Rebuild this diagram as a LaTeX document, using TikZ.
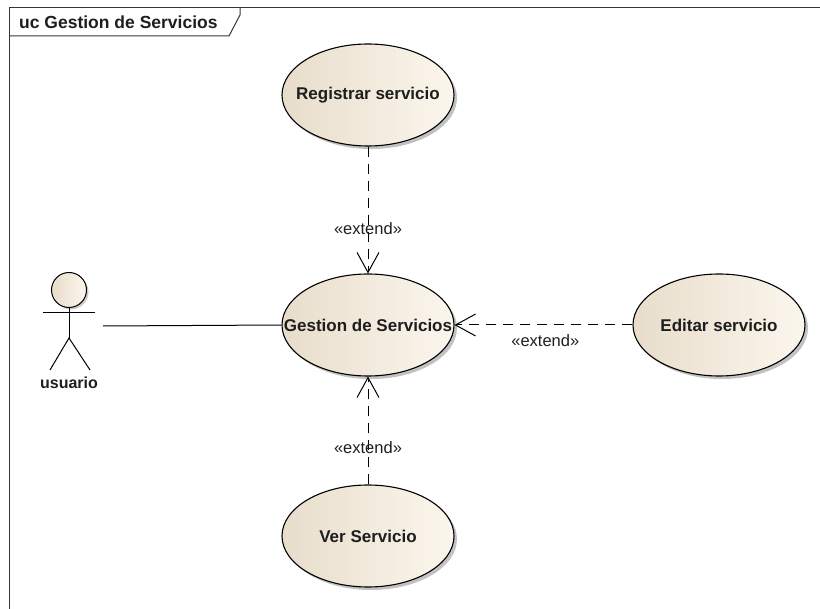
\documentclass[tikz,border=0pt]{standalone}
\usepackage{fontspec}
\setmainfont{Liberation Sans}
\usetikzlibrary{shapes.geometric,arrows.meta,shadows}

\definecolor{ucleft}{RGB}{232,221,203}
\definecolor{ucright}{RGB}{251,246,237}
\definecolor{frameline}{RGB}{55,55,55}
\definecolor{inkcol}{RGB}{30,30,30}

% use-case text is boxed at zero width so the ellipse keeps its fixed size
\newcommand{\uctext}[1]{\makebox[0pt]{#1}}

\tikzset{
  usecase/.style={ellipse, draw=black, line width=1.1pt,
    minimum width=172pt, minimum height=102pt, inner sep=0pt,
    left color=ucleft, right color=ucright,
    drop shadow={shadow xshift=3pt, shadow yshift=-3pt, fill=black!40, opacity=0.6},
    text=inkcol, font=\fontsize{17}{20}\selectfont\bfseries},
  extendline/.style={line width=1pt, dash pattern=on 10pt off 7pt,
    -{Straight Barb[length=20pt, width=22pt, line width=1pt]}},
  stereo/.style={font=\fontsize{16.5}{20}\selectfont, inner sep=0pt, text=inkcol},
  stick/.style={line width=1pt, draw=black},
}

\begin{document}
\begin{tikzpicture}[x=1pt, y=-1pt]
  \useasboundingbox (0,0) rectangle (820,609);

  % diagram frame and its name tab
  \draw[frameline, line width=1pt] (820,8) -- (9,8) -- (9,609);
  \draw[frameline, line width=1pt] (9,36) -- (229,36) -- (240,15) -- (240,8);
  \node[anchor=west, inner sep=0pt, text=inkcol, font=\fontsize{17.5}{20}\selectfont\bfseries]
    (title) at (19,22) {uc Gestion de Servicios};

  % use cases
  \node[usecase] (reg)  at (368,95)  {\uctext{Registrar servicio}};
  \node[usecase] (gest) at (368,325) {\uctext{Gestion de Servicios}};
  \node[usecase] (edit) at (719,325) {\uctext{Editar servicio}};
  \node[usecase] (ver)  at (368,536) {\uctext{Ver Servicio}};

  % actor
  \node[minimum width=68pt, minimum height=110pt, inner sep=0pt] (usr) at (69,326) {};
  \draw[stick, left color=ucleft, right color=ucright,
        drop shadow={shadow xshift=2pt, shadow yshift=-2pt, fill=black!40, opacity=0.5}]
    (69,290) circle (17.5pt);
  \draw[stick] (69,307.5) -- (69,338);
  \draw[stick] (43,313) -- (95,313);
  \draw[stick] (50,370) -- (69,338) -- (90,370);
  \node[inner sep=0pt, text=inkcol, font=\fontsize{16}{20}\selectfont\bfseries]
    (usrname) at (69,383) {usuario};

  % association
  \draw[line width=1pt] (usr.east) -- (gest.west);

  % extend relations
  \draw[extendline] (reg) -- node[stereo, pos=0.645] (extA) {«extend»} (gest);
  \draw[extendline] (edit.west) -- node[stereo, pos=0.49, yshift=-16pt] (extB) {«extend»} (gest.east);
  \draw[extendline] (ver) -- node[stereo, pos=0.34] (extC) {«extend»} (gest);
\end{tikzpicture}
\end{document}
